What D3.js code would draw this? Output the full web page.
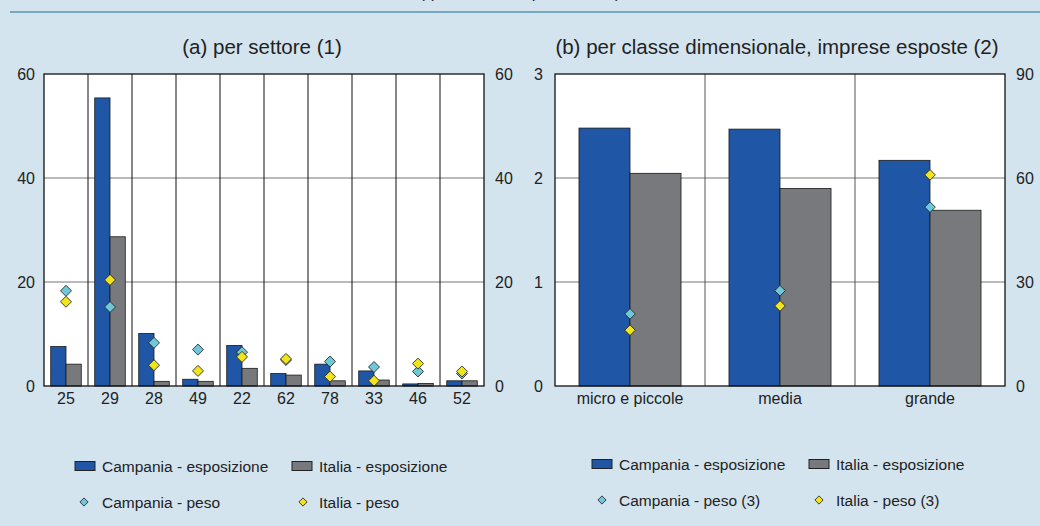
<!DOCTYPE html>
<html>
<head>
<meta charset="utf-8">
<script src="https://cdn.jsdelivr.net/npm/d3@7"></script>
<style>
  body { margin: 0; background: #d3e4ee; }
  svg { display: block; font-family: "Liberation Sans", Arial, sans-serif; }
</style>
</head>
<body>
<svg id="chart" width="1040" height="526"></svg>
<script>
// panel (a) - per settore
const settori = ["25", "29", "28", "49", "22", "62", "78", "33", "46", "52"];
const campEspA = [7.6, 55.4, 10.1, 1.3, 7.8, 2.4, 4.2, 2.9, 0.4, 1.0];
const itaEspA = [4.2, 28.7, 0.9, 0.9, 3.4, 2.1, 1.0, 1.15, 0.5, 1.0];
const campPesoA = [18.3, 15.2, 8.3, 7.0, 6.5, 5.0, 4.7, 3.65, 2.8, 2.4];
const itaPesoA = [16.2, 20.4, 4.0, 2.9, 5.6, 5.2, 1.8, 1.0, 4.3, 2.8];
const ticksA = [0, 20, 40, 60];

// panel (b) - per classe dimensionale
const classi = ["micro e piccole", "media", "grande"];
const campEspB = [2.48, 2.47, 2.17];
const itaEspB = [2.045, 1.90, 1.69];
const campPesoB = [20.8, 27.5, 51.6];
const itaPesoB = [16.1, 23.1, 60.9];
const ticksBL = [0, 1, 2, 3];
const ticksBR = [0, 30, 60, 90];

const colBlue = "#1f56a5", colGray = "#77797c", colCyan = "#6fc8d8", colYellow = "#f2e41c";
const svg = d3.select("#chart");

// heading cut off at the top (only descenders show) + rule
svg.append("text").attr("x", 520).attr("y", -2).attr("text-anchor", "middle")
    .style("font-size", "17px").attr("fill", "#222").text("(quote e valori percentuali)");
svg.append("line").attr("x1", 10).attr("x2", 1040).attr("y1", 12).attr("y2", 12)
    .attr("stroke", "#1d6b97").attr("stroke-width", 1.2);

function panel(o) {
    const g = svg.append("g");
    const x = d3.scaleBand().domain(o.cats).range([o.left, o.right]).padding(0);
    const xi = d3.scaleBand().domain(["c", "i"]).range([0, x.bandwidth()]).paddingInner(0).paddingOuter(o.pad);
    const yL = d3.scaleLinear().domain(o.domL).range([o.bottom, o.top]);
    const yR = d3.scaleLinear().domain(o.domR).range([o.bottom, o.top]);

    g.append("rect").attr("x", o.left).attr("y", o.top)
        .attr("width", o.right - o.left).attr("height", o.bottom - o.top).attr("fill", "#fff");

    // gridlines
    g.selectAll(".grid").data(o.ticksL.slice(1, -1)).enter().append("line")
        .attr("x1", o.left).attr("x2", o.right)
        .attr("y1", d => yL(d)).attr("y2", d => yL(d))
        .attr("stroke", "#777").attr("stroke-width", 1.2);
    g.selectAll(".sep").data(o.cats.slice(1)).enter().append("line")
        .attr("x1", d => x(d)).attr("x2", d => x(d))
        .attr("y1", o.top).attr("y2", o.bottom)
        .attr("stroke", o.sepColor).attr("stroke-width", 1);

    // bars
    const series = [["c", o.camp, colBlue], ["i", o.ita, colGray]];
    series.forEach(([k, vals, col]) => {
        g.selectAll(".bar" + k).data(vals).enter().append("rect")
            .attr("x", (d, i) => x(o.cats[i]) + xi(k))
            .attr("y", d => yL(d))
            .attr("width", xi.bandwidth())
            .attr("height", d => o.bottom - yL(d))
            .attr("fill", col).attr("stroke", "#1a1a1a").attr("stroke-width", 0.8);
    });

    // diamonds on right axis
    const pts = [[o.campPeso, colCyan], [o.itaPeso, colYellow]];
    pts.forEach(([vals, col]) => {
        g.selectAll(null).data(vals).enter().append("path")
            .attr("d", d3.symbol(d3.symbolSquare, o.ds * o.ds))
            .attr("transform", (d, i) => `translate(${x(o.cats[i]) + x.bandwidth() / 2},${yR(d)}) rotate(45)`)
            .attr("fill", col).attr("stroke", "#222").attr("stroke-width", 0.8);
    });

    g.append("rect").attr("x", o.left).attr("y", o.top)
        .attr("width", o.right - o.left).attr("height", o.bottom - o.top)
        .attr("fill", "none").attr("stroke", "#111").attr("stroke-width", 1.3);

    // axes
    const axL = g.append("g").attr("transform", `translate(${o.left},0)`)
        .call(d3.axisLeft(yL).tickValues(o.ticksL).tickFormat(d3.format("d")).tickSize(0).tickPadding(o.padL));
    const axR = g.append("g").attr("transform", `translate(${o.right},0)`)
        .call(d3.axisRight(yR).tickValues(o.ticksR).tickFormat(d3.format("d")).tickSize(0).tickPadding(11));
    const axB = g.append("g").attr("transform", `translate(0,${o.bottom})`)
        .call(d3.axisBottom(x).tickSize(0).tickPadding(7));
    [axL, axR, axB].forEach(a => {
        a.select(".domain").remove();
        a.selectAll("text").style("font-size", "16px").attr("fill", "#222")
            .style("font-family", "'Liberation Sans', Arial, sans-serif");
    });

    g.append("text").attr("x", o.titleX).attr("y", 54).attr("text-anchor", "middle")
        .style("font-size", "20.5px").attr("fill", "#222").text(o.title);
}

panel({
    cats: settori, camp: campEspA, ita: itaEspA, campPeso: campPesoA, itaPeso: itaPesoA,
    left: 44, right: 484, top: 74, bottom: 386, pad: 0.44, sepColor: "#111",
    domL: [0, 60], domR: [0, 60], ticksL: ticksA, ticksR: ticksA, padL: 9, ds: 7.8,
    titleX: 262, title: "(a) per settore (1)"
});
panel({
    cats: classi, camp: campEspB, ita: itaEspB, campPeso: campPesoB, itaPeso: itaPesoB,
    left: 555, right: 1005, top: 74, bottom: 386, pad: 0.47, sepColor: "#555",
    domL: [0, 3], domR: [0, 90], ticksL: ticksBL, ticksR: ticksBR, padL: 12, ds: 7.5,
    titleX: 777, title: "(b) per classe dimensionale, imprese esposte (2)"
});

// legends
function legend(items) {
    items.forEach(it => {
        if (it.type === "bar") {
            svg.append("rect").attr("x", it.x).attr("y", it.y - 4.5).attr("width", 20).attr("height", 9)
                .attr("fill", it.col).attr("stroke", "#222").attr("stroke-width", 1);
        } else {
            svg.append("path").attr("d", d3.symbol(d3.symbolSquare, 34))
                .attr("transform", `translate(${it.x},${it.y}) rotate(45)`)
                .attr("fill", it.col).attr("stroke", "#222").attr("stroke-width", 0.8);
        }
        svg.append("text").attr("x", it.tx).attr("y", it.y + 5.5)
            .style("font-size", "15.5px").attr("fill", "#222").text(it.label);
    });
}
legend([
    { type: "bar", x: 75, y: 466, tx: 102, col: colBlue, label: "Campania - esposizione" },
    { type: "bar", x: 292, y: 466, tx: 319, col: colGray, label: "Italia - esposizione" },
    { type: "dia", x: 84, y: 502, tx: 102, col: colCyan, label: "Campania - peso" },
    { type: "dia", x: 303, y: 502, tx: 319, col: colYellow, label: "Italia - peso" },
    { type: "bar", x: 592, y: 464, tx: 619, col: colBlue, label: "Campania - esposizione" },
    { type: "bar", x: 809, y: 464, tx: 836, col: colGray, label: "Italia - esposizione" },
    { type: "dia", x: 602, y: 500, tx: 619, col: colCyan, label: "Campania - peso (3)" },
    { type: "dia", x: 819, y: 500, tx: 836, col: colYellow, label: "Italia - peso (3)" }
]);
</script>
</body>
</html>
